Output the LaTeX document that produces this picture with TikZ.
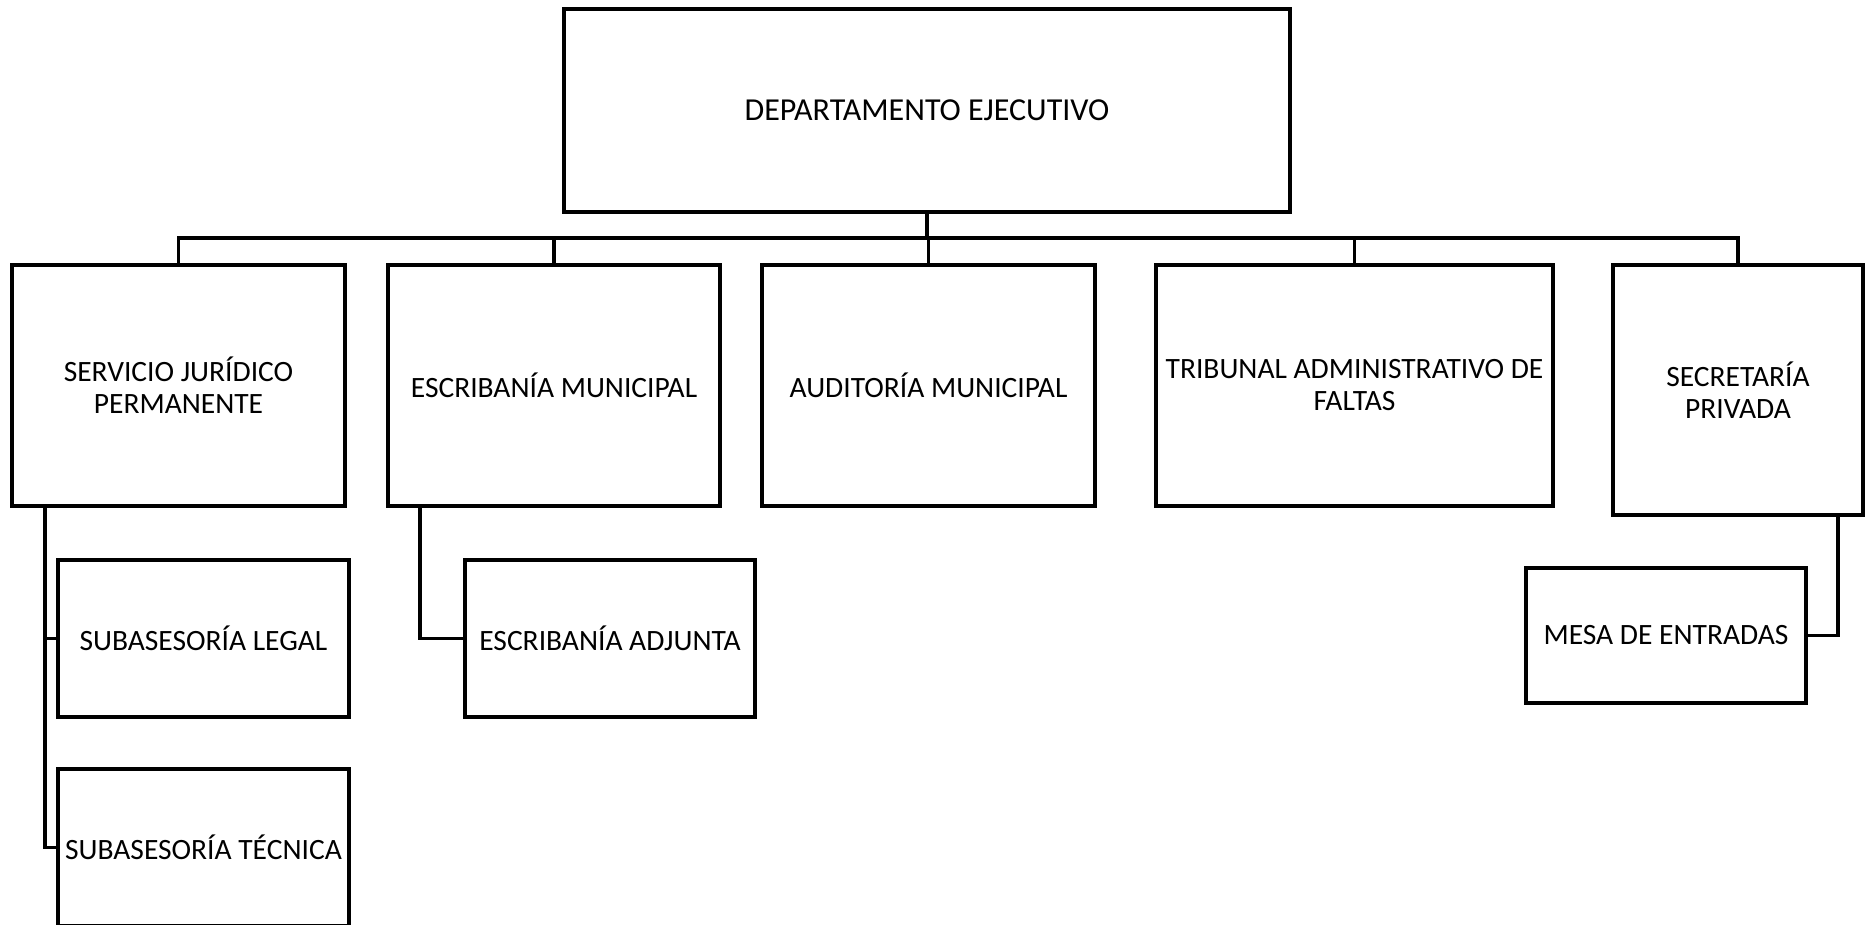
\documentclass[tikz,border=0pt]{standalone}
\usepackage{fontspec}
\setmainfont{Carlito}
\begin{document}
\begin{tikzpicture}[x=1pt,y=-1pt,
  box/.style={draw=black,line width=3.2pt,rectangle,inner sep=0pt,outer sep=0pt,align=center,
    font=\fontsize{29.5}{32}\selectfont,fill=white},
  conn/.style={draw=black,line width=3.2pt}]
\useasboundingbox[fill=white] (0,0) rectangle (1871,924);
\node[box,minimum width=726pt,minimum height=203pt,font=\fontsize{32}{34}\selectfont] (top) at (927,110.5) {DEPARTAMENTO EJECUTIVO};
\node[box,minimum width=333pt,minimum height=241pt] (serv) at (178.5,385.5) {SERVICIO JURÍDICO\\PERMANENTE};
\node[box,minimum width=332pt,minimum height=241pt] (escm) at (554,385.5) {ESCRIBANÍA MUNICIPAL};
\node[box,minimum width=333pt,minimum height=241pt] (aud) at (928.5,385.5) {AUDITORÍA MUNICIPAL};
\node[box,minimum width=397pt,minimum height=241pt] (trib) at (1354.5,385.5) {TRIBUNAL ADMINISTRATIVO DE\\FALTAS};
\node[box,minimum width=250pt,minimum height=250pt] (sec) at (1738,390) {SECRETARÍA\\PRIVADA};
\node[box,minimum width=291pt,minimum height=157pt] (legal) at (203.5,638.5) {SUBASESORÍA LEGAL};
\node[box,minimum width=291pt,minimum height=157pt] (tec) at (203.5,847.5) {SUBASESORÍA TÉCNICA};
\node[box,minimum width=290pt,minimum height=157pt] (adj) at (610,638.5) {ESCRIBANÍA ADJUNTA};
\node[box,minimum width=280pt,minimum height=135pt] (mesa) at (1666,635.5) {MESA DE ENTRADAS};
\coordinate (bus) at (0,238);
\coordinate (busmid) at (top.south |- bus);
\draw[conn] (top.south) -- (busmid);
\draw[conn] (serv.north) |- (busmid);
\draw[conn] (sec.north) |- (busmid);
\draw[conn] (escm.north) -- (escm.north |- bus);
\draw[conn] (aud.north) -- (aud.north |- bus);
\draw[conn] (trib.north) -- (trib.north |- bus);
\coordinate (servdrop) at ([xshift=33pt]serv.south west);
\draw[conn] (servdrop) |- (legal.west);
\draw[conn] (servdrop) |- (tec.west);
\draw[conn] ([xshift=32pt]escm.south west) |- (adj.west);
\draw[conn] ([xshift=-25pt]sec.south east) |- (mesa.east);
\end{tikzpicture}
\end{document}
